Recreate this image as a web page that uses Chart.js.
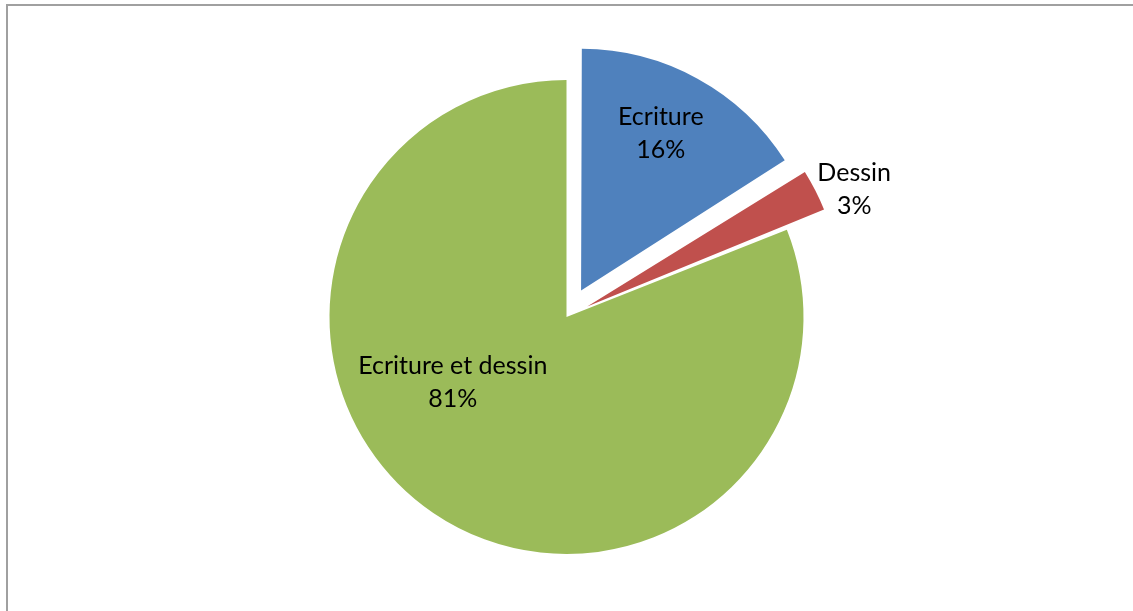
<!DOCTYPE html>
<html lang="fr">
  <head>
    <meta charset="UTF-8" />
    <title>Ecriture / Dessin</title>
    <script src="https://cdn.jsdelivr.net/npm/chart.js"></script>
    <style>
      html,
      body {
        margin: 0;
        padding: 0;
        background: #fff;
      }
      .chart-box {
        position: relative;
        width: 1133px;
        height: 611px;
      }
      .frame {
        position: absolute;
        left: 6px;
        top: 4px;
        right: -2px;
        bottom: -2px;
        border-top: 2px solid #a0a0a0;
        border-left: 2px solid #a0a0a0;
        pointer-events: none;
      }
    </style>
  </head>
  <body>
    <div class="chart-box">
      <canvas id="pieChart" width="1133" height="611"></canvas>
      <div class="frame"></div>
    </div>
    <script>
      // data
      const categories = ["Ecriture", "Dessin", "Ecriture et dessin"];
      const percentages = [16, 3, 81];
      const sliceColors = ["#4F81BD", "#C0504D", "#9BBB59"];

      // same shift Chart.js applies to an exploded arc when it draws it
      function arcShift(arc) {
        const off = (arc.options.offset || 0) / 4;
        const fix = 1 - Math.sin(Math.min(Math.PI, arc.circumference || 0));
        return off * (1 + fix);
      }

      // draws "name / xx%" on each slice, in the spot Excel chose
      const sliceLabels = {
        id: "sliceLabels",
        afterDatasetsDraw(chart, args, opts) {
          const ctx = chart.ctx;
          const meta = chart.getDatasetMeta(0);
          ctx.save();
          ctx.font = opts.font;
          ctx.fillStyle = "#000";
          ctx.textAlign = "center";
          ctx.textBaseline = "middle";
          meta.data.forEach((arc, i) => {
            const p = arc.getProps(
              ["x", "y", "startAngle", "endAngle", "outerRadius"],
              true
            );
            const mid = (p.startAngle + p.endAngle) / 2;
            const shift = arcShift(arc);
            const cx = p.x + Math.cos(mid) * shift;
            const cy = p.y + Math.sin(mid) * shift;
            const place = opts.place[i];
            const a = mid + (place.da * Math.PI) / 180;
            const d = place.f * p.outerRadius;
            const x = cx + Math.cos(a) * d;
            const y = cy + Math.sin(a) * d;
            const value = chart.data.datasets[0].data[i];
            ctx.fillText(chart.data.labels[i], x, y - opts.lineHeight / 2);
            ctx.fillText(value + "%", x, y + opts.lineHeight / 2);
          });
          ctx.restore();
        },
      };

      const ctx = document.getElementById("pieChart").getContext("2d");
      new Chart(ctx, {
        type: "pie",
        data: {
          labels: categories,
          datasets: [
            {
              data: percentages,
              backgroundColor: sliceColors,
              borderWidth: 0,
              offset: [121, 93, 0],
            },
          ],
        },
        options: {
          responsive: false,
          animation: false,
          events: [],
          radius: 237,
          layout: {
            padding: { top: 23 },
          },
          plugins: {
            legend: { display: false },
            tooltip: { enabled: false },
            sliceLabels: {
              font: "25px Lato, 'Open Sans', sans-serif",
              lineHeight: 33,
              place: [
                { f: 0.725, da: -2 },
                { f: 1.15, da: 3.6 },
                { f: 0.553, da: 26 },
              ],
            },
          },
        },
        plugins: [sliceLabels],
      });
    </script>
  </body>
</html>
